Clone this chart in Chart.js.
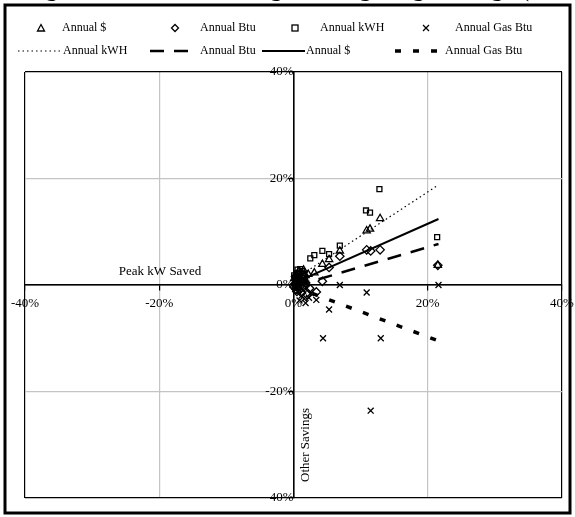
<!DOCTYPE html>
<html>
<head>
<meta charset="utf-8">
<script src="https://cdn.jsdelivr.net/npm/chart.js@4.4.1/dist/chart.umd.min.js"></script>
<style>
  body { margin: 0; background: #fff; }
</style>
</head>
<body>
<canvas id="chart" width="575" height="517"></canvas>
<script>
// scatter data (% savings)
const dollarX = [21.5, 12.9, 10.9, 11.4, 6.9, 5.3, 4.3, 3.1, 0.2, 0.5, 0.8, 1.2, 1.5, 0.3, 1.0, 1.8, 0.6, 2.2, 0.1, 0.4, 0.9, 1.3, 0.7, 1.6];
const dollarY = [3.7, 12.5, 10.2, 10.5, 6.4, 4.8, 3.9, 2.3, 0.5, 1.5, 2.5, 1.0, 2.8, -0.3, 0.2, 1.8, 0.8, 2.0, 1.2, 2.0, 1.4, 2.2, 0.0, 0.6];

const btuX = [21.5, 12.9, 10.9, 11.5, 6.9, 5.3, 4.3, 3.4, 0.2, 0.6, 1.0, 1.4, 0.4, 1.2, 1.8, 2.4, 0.8, 2.0, 0.1, 0.5, 0.9, 1.5, 0.3, 1.1];
const btuY = [3.7, 6.6, 6.6, 6.4, 5.4, 3.3, 0.7, -1.3, 0.2, 1.0, 0.5, 1.8, -0.8, -1.5, 0.4, -0.6, 2.0, -1.8, -0.4, -1.2, -0.9, 1.1, 1.6, -0.2];

const kwhX = [21.4, 12.8, 10.8, 11.4, 6.9, 4.3, 5.3, 3.1, 2.5, 0.3, 0.8, 1.3, 1.1, 0.5, 1.7, 0.2, 0.6, 1.0, 0.1];
const kwhY = [9.0, 18.0, 14.0, 13.6, 7.4, 6.4, 5.8, 5.6, 5.0, 0.8, 1.6, 2.6, 0.4, 2.2, 1.3, -0.2, 2.9, 3.0, 1.8];

const gasX = [21.6, 13.0, 11.5, 10.9, 6.9, 5.3, 4.4, 3.4, 1.8, 0.3, 0.7, 1.2, 0.5, 1.0, 1.6, 2.3, 0.2, 1.4, 2.0, 2.6, 0.9, 1.9];
const gasY = [0, -10.0, -23.6, -1.4, 0, -4.6, -10.0, -2.8, -3.4, -0.5, -1.2, -2.0, 0.3, -0.4, -2.6, -2.4, 0.6, -1.0, -0.6, -1.5, -2.9, 0.3];

// trend lines (start / end)
const trendX = [0.3, 21.6];
const kwhTrend = [1.2, 18.8];
const btuTrend = [-0.2, 7.7];
const dollarTrend = [0.5, 12.4];
const gasTrend = [-0.4, -10.5];

const tickValues = [-40, -20, 0, 20, 40];
const titleText = 'Weighted Peak kW Savings vs. Lighting Savings (Percent)';

function pts(xs, ys) {
    return xs.map((x, i) => ({ x: x, y: ys[i] }));
}

Chart.defaults.font.family = '"Liberation Serif", "Times New Roman", serif';
Chart.defaults.font.size = 13;
Chart.defaults.color = '#000';

function scatterSet(label, xs, ys, style) {
    return {
        label: label,
        data: pts(xs, ys),
        showLine: false,
        pointStyle: style,
        pointRadius: style === 'rect' ? 3.5 : 4.2,
        borderColor: '#000',
        backgroundColor: 'rgba(255,255,255,0)',
        borderWidth: 1.3
    };
}

function trendSet(label, ys, width, dash) {
    return {
        label: label,
        data: pts(trendX, ys),
        showLine: true,
        pointRadius: 0,
        borderColor: '#000',
        borderWidth: width,
        borderDash: dash,
        fill: false
    };
}

function gridColor(ctx) {
    let v = ctx.tick.value;
    if (v === 0 || v === 40 || v === -40) return '#000';
    return '#c4c4c4';
}

// chart frame, title, legend, axis titles
const extras = {
    id: 'extras',
    afterDraw(chart) {
        const ctx = chart.ctx;
        ctx.save();

        // title sits above the frame, only its descenders show
        ctx.font = '26px "Liberation Serif"';
        ctx.fillStyle = '#000';
        ctx.textAlign = 'left';
        ctx.textBaseline = 'alphabetic';
        ctx.fillText(titleText, 4, -4);

        ctx.strokeStyle = '#000';
        ctx.lineWidth = 3;
        ctx.strokeRect(5, 5, 565, 508);

        // axis titles
        ctx.textAlign = 'center';
        ctx.font = '13px "Liberation Serif"';
        ctx.textBaseline = 'middle';
        ctx.fillText('Peak kW Saved', 160, 272);
        ctx.translate(306, 445);
        ctx.rotate(-Math.PI / 2);
        ctx.fillText('Other Savings', 0, 0);
        ctx.restore();

        // legend
        ctx.save();
        ctx.font = '12px "Liberation Serif"';
        ctx.fillStyle = '#000';
        ctx.strokeStyle = '#000';
        ctx.textBaseline = 'middle';
        ctx.textAlign = 'left';
        let r1 = 28, r2 = 51;

        ctx.lineWidth = 1.3;
        ctx.beginPath();
        ctx.moveTo(41, r1 - 3.5); ctx.lineTo(44.5, r1 + 3); ctx.lineTo(37.5, r1 + 3); ctx.closePath();
        ctx.stroke();
        ctx.fillText('Annual $', 62, r1);

        ctx.beginPath();
        ctx.moveTo(175, r1 - 3.5); ctx.lineTo(178.5, r1); ctx.lineTo(175, r1 + 3.5); ctx.lineTo(171.5, r1); ctx.closePath();
        ctx.stroke();
        ctx.fillText('Annual Btu', 200, r1);

        ctx.strokeRect(292, r1 - 3, 6, 6);
        ctx.fillText('Annual kWH', 320, r1);

        ctx.beginPath();
        ctx.moveTo(423, r1 - 3); ctx.lineTo(429, r1 + 3);
        ctx.moveTo(429, r1 - 3); ctx.lineTo(423, r1 + 3);
        ctx.stroke();
        ctx.fillText('Annual Gas Btu', 455, r1);

        let segs = [
            { x0: 18, x1: 62, w: 1.2, dash: [1.5, 3], text: 'Annual kWH', tx: 63 },
            { x0: 150, x1: 192, w: 2.5, dash: [14, 10], text: 'Annual Btu', tx: 200 },
            { x0: 262, x1: 305, w: 2, dash: [], text: 'Annual $', tx: 306 },
            { x0: 395, x1: 445, w: 3.5, dash: [6, 12], text: 'Annual Gas Btu', tx: 445 }
        ];
        segs.forEach(s => {
            ctx.lineWidth = s.w;
            ctx.setLineDash(s.dash);
            ctx.beginPath();
            ctx.moveTo(s.x0, r2);
            ctx.lineTo(s.x1, r2);
            ctx.stroke();
            ctx.fillText(s.text, s.tx, r2);
        });
        ctx.restore();
    }
};

new Chart(document.getElementById('chart'), {
    type: 'scatter',
    data: {
        datasets: [
            trendSet('Annual kWH', kwhTrend, 1.2, [1.5, 3]),
            trendSet('Annual Btu', btuTrend, 2.5, [14, 10]),
            trendSet('Annual $', dollarTrend, 2, []),
            trendSet('Annual Gas Btu', gasTrend, 3.5, [6, 12]),
            scatterSet('Annual $', dollarX, dollarY, 'triangle'),
            scatterSet('Annual Btu', btuX, btuY, 'rectRot'),
            scatterSet('Annual kWH', kwhX, kwhY, 'rect'),
            scatterSet('Annual Gas Btu', gasX, gasY, 'crossRot')
        ]
    },
    options: {
        responsive: false,
        animation: false,
        layout: { padding: { left: 25, top: 72, right: 13, bottom: 19 } },
        plugins: {
            legend: { display: false },
            tooltip: { enabled: false }
        },
        scales: {
            x: {
                type: 'linear',
                min: -40,
                max: 40,
                position: { y: 0 },
                afterBuildTicks: axis => { axis.ticks = tickValues.map(v => ({ value: v })); },
                // labels may hang over the frame, don't shrink the plot for them
                afterFit: axis => { axis.paddingLeft = 0; axis.paddingRight = 0; },
                ticks: { callback: v => v + '%', padding: 6, maxRotation: 0 },
                grid: { color: gridColor, lineWidth: 1.2, tickLength: 5, tickColor: '#000' },
                border: { color: '#000', width: 1.5 }
            },
            y: {
                type: 'linear',
                min: -40,
                max: 40,
                position: { x: 0 },
                afterBuildTicks: axis => { axis.ticks = tickValues.map(v => ({ value: v })); },
                afterFit: axis => { axis.paddingTop = 0; axis.paddingBottom = 0; },
                ticks: { callback: v => v + '%', padding: 2 },
                grid: { color: gridColor, lineWidth: 1.2, tickLength: 5, tickColor: '#000' },
                border: { color: '#000', width: 1.5 }
            }
        }
    },
    plugins: [extras]
});
</script>
</body>
</html>
